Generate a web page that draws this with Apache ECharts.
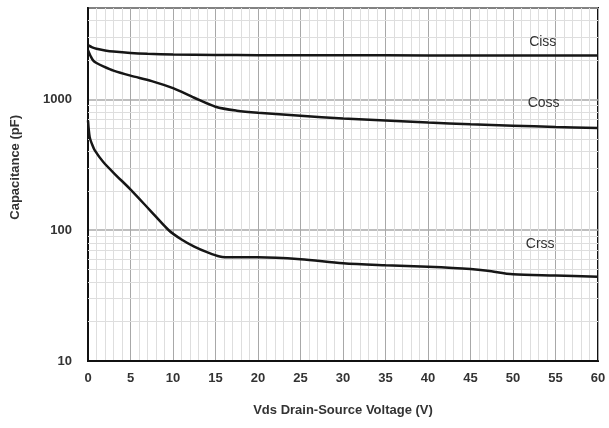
<!DOCTYPE html>
<html>
<head>
<meta charset="utf-8">
<script src="https://cdn.jsdelivr.net/npm/echarts@6/dist/echarts.min.js"></script>
<style>html,body{margin:0;padding:0;background:#fff}#c{width:609px;height:428px}</style>
</head>
<body>
<div id="c"></div>
<script>
// Data
var cissV = [0, 0.5, 1, 2, 3, 5, 7, 10, 15, 20, 30, 40, 50, 60];
var cissC = [2600, 2500, 2440, 2370, 2320, 2260, 2230, 2210, 2190, 2180, 2175, 2170, 2170, 2170];

var cossV = [0, 0.3, 0.6, 1, 1.8, 3, 5, 7.5, 10, 12.5, 15, 17.5, 20, 25, 30, 35, 40, 45, 50, 55, 60];
var cossC = [2380, 2150, 1990, 1900, 1790, 1660, 1520, 1380, 1220, 1030, 880, 820, 790, 750, 715, 690, 665, 645, 630, 615, 605];

var crssV = [0, 0.2, 0.5, 0.8, 1.8, 3.3, 4.9, 7.3, 9.5, 11, 12.5, 14, 15.5, 17, 20, 25, 30, 35, 40, 45, 47, 50, 55, 60];
var crssC = [690, 515, 450, 408, 332, 263, 208, 142, 100, 85, 75, 68, 63, 62, 62, 60, 56, 54, 52.5, 50.5, 49, 46, 45, 44];

var seriesNames = ['Ciss', 'Coss', 'Crss'];
var labelPos = [[53.5, 2720], [53.6, 930], [53.2, 78]];

var xTicks = [0, 5, 10, 15, 20, 25, 30, 35, 40, 45, 50, 55, 60];
var yTicks = [10, 100, 1000];
var yMinorGrid = [20, 30, 40, 50, 60, 70, 80, 90, 200, 300, 400, 500, 600, 700, 800, 900, 2000, 3000, 4000];

function zip(a, b) { return a.map(function (v, i) { return [v, b[i]]; }); }

var curves = [zip(cissV, cissC), zip(cossV, cossC), zip(crssV, crssC)];

var font = '"Liberation Sans", Arial, sans-serif';

var series = [{
  type: 'line',
  data: [],
  silent: true,
  z: 1,
  markLine: {
    silent: true,
    symbol: ['none', 'none'],
    label: { show: false },
    lineStyle: { color: '#dedede', width: 1, type: 'solid' },
    data: yMinorGrid.map(function (v) { return { yAxis: v }; }),
    animation: false
  }
}];

curves.forEach(function (d, i) {
  series.push({
    name: seriesNames[i],
    type: 'line',
    data: d,
    showSymbol: false,
    smooth: 0.3,
    lineStyle: { color: '#161616', width: 2.5 },
    z: 5,
    markPoint: {
      symbol: 'circle',
      symbolSize: 0,
      label: {
        show: true,
        formatter: seriesNames[i],
        color: '#333',
        fontSize: 14,
        fontFamily: font
      },
      data: [{ coord: labelPos[i] }]
    }
  });
});

var chart = echarts.init(document.getElementById('c'));
chart.setOption({
  animation: false,
  backgroundColor: '#fff',
  grid: { left: 88, right: 11, top: 8, bottom: 67, show: true, borderColor: '#111', borderWidth: 2, backgroundColor: 'transparent' },
  xAxis: {
    type: 'value',
    min: 0, max: 60, interval: 5,
    name: 'Vds Drain-Source Voltage (V)',
    nameLocation: 'middle',
    nameGap: 43,
    nameTextStyle: { fontFamily: font, fontWeight: 'bold', fontSize: 13, color: '#333' },
    axisLine: { show: true, lineStyle: { color: '#111', width: 2 } },
    axisTick: { show: false },
    axisLabel: { fontFamily: font, fontWeight: 'bold', fontSize: 13, color: '#333', margin: 11,
      formatter: function (v) { return xTicks.indexOf(v) >= 0 ? String(v) : ''; } },
    splitLine: { show: true, lineStyle: { color: '#a8a8a8', width: 1 } },
    minorTick: { show: false, splitNumber: 5 },
    minorSplitLine: { show: true, lineStyle: { color: '#dedede', width: 1 } }
  },
  yAxis: {
    type: 'log', logBase: 10,
    min: 10, max: 5000,
    axisLine: { show: true, lineStyle: { color: '#111', width: 2 } },
    axisTick: { show: false },
    axisLabel: { fontFamily: font, fontWeight: 'bold', fontSize: 13, color: '#333', margin: 16,
      showMaxLabel: false,
      formatter: function (v) { var r = Math.round(v); return yTicks.indexOf(r) >= 0 ? String(r) : ''; } },
    splitLine: { show: true, lineStyle: { color: '#a8a8a8', width: 1.5 } }
  },
  graphic: [{
    type: 'text',
    left: 9,
    top: 115,
    rotation: Math.PI / 2,
    style: { text: 'Capacitance (pF)', fontFamily: font, fontWeight: 'bold', fontSize: 13, fill: '#333' }
  }],
  series: series
});
</script>
</body>
</html>
